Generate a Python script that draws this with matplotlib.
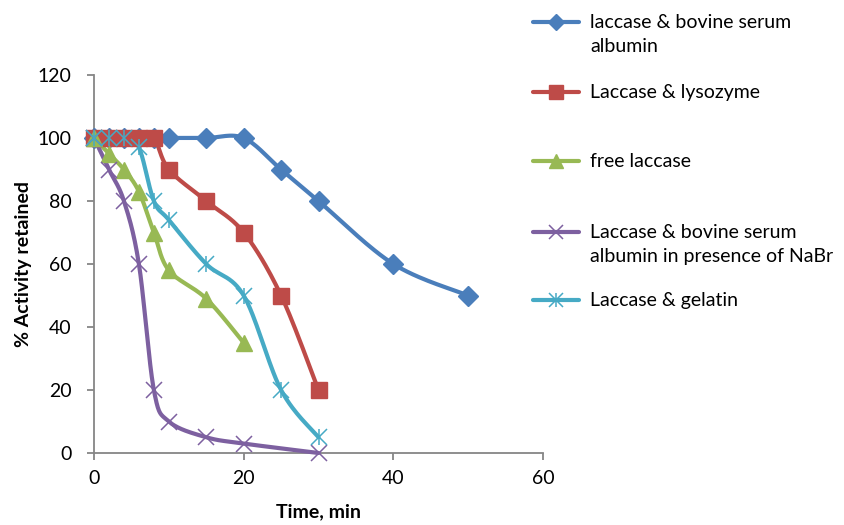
import numpy as np
import matplotlib
matplotlib.use('Agg')
import matplotlib.pyplot as plt
from matplotlib.lines import Line2D

plt.rcParams['font.family'] = ['Lato', 'DejaVu Sans']

# data
labels = ['laccase & bovine serum\nalbumin',
          'Laccase & lysozyme',
          'free laccase',
          'Laccase & bovine serum\nalbumin in presence of NaBr',
          'Laccase & gelatin']

t_bsa = [0, 2, 4, 6, 8, 10, 15, 20, 25, 30, 40, 50]
a_bsa = [100, 100, 100, 100, 100, 100, 100, 100, 90, 80, 60, 50]

t_lys = [0, 2, 4, 6, 8, 10, 15, 20, 25, 30]
a_lys = [100, 100, 100, 100, 100, 90, 80, 70, 50, 20]

t_free = [0, 2, 4, 6, 8, 10, 15, 20]
a_free = [100, 95, 90, 83, 70, 58, 49, 35]

t_nabr = [0, 2, 4, 6, 8, 10, 15, 20, 30]
a_nabr = [100, 90, 80, 60, 20, 10, 5, 3, 0]

t_gel = [0, 2, 4, 6, 8, 10, 15, 20, 25, 30]
a_gel = [100, 100, 100, 97, 80, 74, 60, 50, 20, 5]

colors = ['#4A7EBB', '#BE4B48', '#98B954', '#7D60A0', '#46AAC5']

W, H = 844, 525
fig = plt.figure(figsize=(W / 100, H / 100), dpi=100)
ax = fig.add_axes([94 / W, 1 - 453 / H, (543 - 94) / W, (453 - 75) / H])
ax.set_xlim(0, 60)
ax.set_ylim(0, 120)

# pixel scale of the axes, used so the smoothing behaves like Excel's
sx = (543 - 94) / 60.0
sy = (453 - 75) / 120.0


def smooth(x, y, n=30):
    p = np.column_stack([np.asarray(x, float) * sx, np.asarray(y, float) * sy])
    ext = np.vstack([p[0], p, p[-1]])
    out = []
    for i in range(len(p) - 1):
        p0, p1, p2, p3 = ext[i], ext[i + 1], ext[i + 2], ext[i + 3]
        c1 = p1 + (p2 - p0) / 6.0
        c2 = p2 - (p3 - p1) / 6.0
        s = np.linspace(0, 1, n)[:, None]
        seg = ((1 - s) ** 3) * p1 + 3 * ((1 - s) ** 2) * s * c1 + 3 * (1 - s) * s ** 2 * c2 + s ** 3 * p2
        out.append(seg if i == 0 else seg[1:])
    out = np.vstack(out)
    return out[:, 0] / sx, out[:, 1] / sy


series = [(t_bsa, a_bsa, 'D', 10, 0),
          (t_lys, a_lys, 's', 12, 0),
          (t_free, a_free, '^', 12, 0),
          (t_nabr, a_nabr, 'x', 12, 1.1),
          (t_gel, a_gel, 'x', 12, 1.1)]

lw = 3.0
for (t, a, m, ms, mew), c in zip(series, colors):
    xs, ys = smooth(t, a)
    ax.plot(xs, ys, color=c, lw=lw, solid_capstyle='round', clip_on=False, zorder=3)
    if m == 'x':
        ax.plot(t, a, ls='none', marker='x', ms=ms, mew=mew, color=c, clip_on=False, zorder=4)
    else:
        ax.plot(t, a, ls='none', marker=m, ms=ms, color=c, mec=c, clip_on=False, zorder=4)
# gelatin uses Excel's star marker: an x with a vertical bar
ax.plot(t_gel, a_gel, ls='none', marker='|', ms=12, mew=1.1, color=colors[4], clip_on=False, zorder=4)

# axes styling
gray = '#868686'
for side in ['top', 'right']:
    ax.spines[side].set_visible(False)
for side in ['left', 'bottom']:
    ax.spines[side].set_color(gray)
    ax.spines[side].set_linewidth(1.3)
ax.set_xticks([0, 20, 40, 60])
ax.set_yticks(range(0, 121, 20))
ax.tick_params(direction='out', length=5, width=1.3, color=gray, labelsize=14,
               labelcolor='black')
ax.tick_params(axis='y', pad=11)
ax.tick_params(axis='x', pad=7)
ax.set_xlabel('Time, min', fontsize=14, fontweight='bold', labelpad=12)
ax.set_ylabel('% Activity retained', fontsize=14, fontweight='bold', labelpad=4)

# legend, drawn by hand to keep Excel's uneven spacing
rows = [22, 92, 161, 232, 300]
for (t, a, m, ms, mew), c, lab, yr in zip(series, colors, labels, rows):
    yf = 1 - yr / H
    fig.add_artist(Line2D([533 / W, 579 / W], [yf, yf], color=c, lw=lw,
                          solid_capstyle='round', transform=fig.transFigure))
    fig.add_artist(Line2D([556 / W], [yf], ls='none', marker=m, ms=ms * 0.8,
                          mew=mew if m == 'x' else 1, color=c, mec=c,
                          transform=fig.transFigure))
    if c == colors[4]:
        fig.add_artist(Line2D([556 / W], [yf], ls='none', marker='|', ms=ms * 0.8,
                              mew=1.1, color=c, transform=fig.transFigure))
    fig.text(590 / W, yf + 8 / H, lab, fontsize=14, va='top', ha='left',
             linespacing=1.5)

fig.savefig('out.png', dpi=100)
